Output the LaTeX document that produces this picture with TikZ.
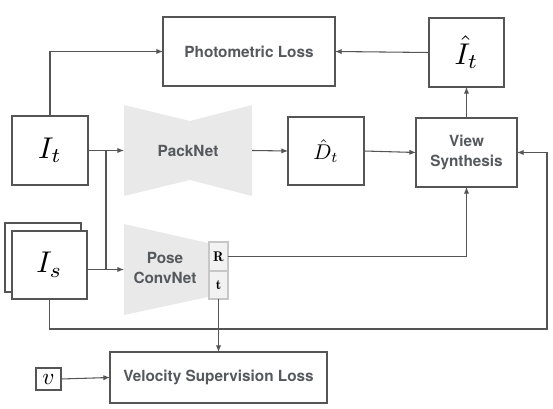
\documentclass[tikz,border=0pt]{standalone}
\usepackage{graphicx}
\usepackage{fontspec}
\setsansfont{TeX Gyre Heros}
\usetikzlibrary{arrows.meta}
\definecolor{lc}{HTML}{555555}
\definecolor{tc}{HTML}{55585C}
\definecolor{netfill}{HTML}{E9E9E9}
\newcommand{\bigmath}[2]{\scalebox{#1}{$#2$}}
\begin{document}
\begin{tikzpicture}[x=0.75pt,y=-0.75pt,
  box/.style={draw=lc,line width=0.8pt,fill=white,inner sep=0pt,outer sep=0pt,text=black},
  lbl/.style={font=\sffamily\bfseries\fontsize{11.5}{14.3}\selectfont,text=tc,align=center},
  arr/.style={draw=lc,line width=0.8pt,-{Latex[length=5pt,width=4pt]}},
  ln/.style={draw=lc,line width=0.8pt},
  rt/.style={draw=black!22,line width=0.8pt,fill=black!5,inner sep=0pt,outer sep=0pt,minimum width=19*0.75pt}
]
\useasboundingbox (0,0) rectangle (553,409);
% boxes
\node[box,lbl,minimum width=172*0.75pt,minimum height=69*0.75pt] (photo) at (249,51.5) {Photometric Loss};
\node[box,minimum width=75*0.75pt,minimum height=69*0.75pt] (Ihat) at (466.5,52.5) {\bigmath{2.25}{\hat{I}_t}};
\node[box,minimum width=76*0.75pt,minimum height=69*0.75pt] (It) at (50,150.5) {\bigmath{2.25}{I_t}};
\node[box,minimum width=76*0.75pt,minimum height=68*0.75pt] (Dhat) at (326,151) {\bigmath{1.6}{\hat{D}_t}};
\node[box,lbl,minimum width=101*0.75pt,minimum height=69*0.75pt] (VS) at (466.5,152.5) {View\\Synthesis};
% I_s stack
\draw[box] (5,223) rectangle (81,292);
\node[box,minimum width=75*0.75pt,minimum height=68*0.75pt] (Is) at (49.5,265) {\bigmath{2.25}{I_s}};
% PackNet
\node[lbl,minimum width=128*0.75pt,minimum height=91*0.75pt,inner sep=0pt,outer sep=0pt] (pack) at (188,150.5) {};
\fill[netfill] (124,105) -- (190,121) -- (252,105) -- (252,196) -- (190,180) -- (124,196) -- cycle;
\node[lbl] at (pack.center) {PackNet};
% Pose ConvNet
\node[minimum width=84*0.75pt,minimum height=91*0.75pt,inner sep=0pt,outer sep=0pt] (pose) at (166,269.5) {};
\fill[netfill] (124,224) -- (208,243) -- (208,297) -- (124,315) -- cycle;
\node[lbl] at (165,268) {Pose\\ConvNet};
% R and t
\node[rt,minimum height=29*0.75pt] (R) at (218.5,256.5) {\bigmath{1.05}{\mathbf{R}}};
\node[rt,minimum height=28*0.75pt] (t) at (218.5,285) {\bigmath{1.05}{\mathbf{t}}};
% velocity
\node[box,lbl,minimum width=217*0.75pt,minimum height=51*0.75pt] (vel) at (218.5,377.5) {Velocity Supervision Loss};
\node[box,minimum width=25*0.75pt,minimum height=22*0.75pt] (v) at (48.5,379) {\bigmath{1.75}{v}};
% coordinates
\coordinate (j1) at (106,150.5);
\coordinate (c2) at (547,329);
% connectors
\draw[arr] (It.north) |- (photo.west);
\draw[arr] (Ihat.west) -- (photo.east);
\draw[arr] (It.east) -- (pack.west);
\draw[arr] (pack.east) -- (Dhat.west);
\draw[arr] (Dhat.east) -- (VS.west);
\draw[arr] (VS.north) -- (Ihat.south);
\draw[ln] (j1) -- (j1 |- pose.west);
\draw[arr] (pose.west -| Is.east) -- (pose.west);
\draw[arr] (R.east) -| (VS.south);
\draw[arr] (Is.south) |- (c2) |- (VS.east);
\draw[arr] (t.south) -- (vel.north);
\draw[arr] (v.east) -- (vel.west);
\end{tikzpicture}
\end{document}
